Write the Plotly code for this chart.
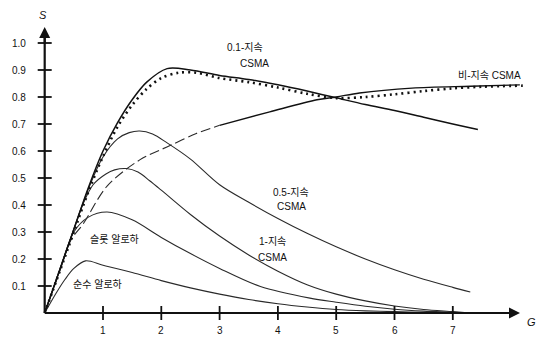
import plotly.graph_objects as go

# ---------------- data ----------------
g_p01 = [0, 0.25, 0.5, 0.75, 1.0, 1.25, 1.5, 1.75, 2.1, 2.5, 3.0, 3.5, 4.0, 4.5, 5.0, 5.5, 6.0, 6.5, 7.0, 7.43]
s_p01 = [0, 0.155, 0.31, 0.465, 0.60, 0.705, 0.79, 0.855, 0.905, 0.90, 0.88, 0.865, 0.845, 0.822, 0.797, 0.772, 0.75, 0.725, 0.70, 0.68]

g_dot = [0, 0.25, 0.5, 0.75, 1.0, 1.25, 1.5, 1.75, 2.0, 2.3, 2.6, 3.0, 3.5, 4.0, 4.5, 5.0, 5.5, 6.0, 6.5, 7.0, 7.5, 8.2]
s_dot = [0, 0.15, 0.30, 0.45, 0.58, 0.69, 0.77, 0.83, 0.87, 0.89, 0.89, 0.87, 0.855, 0.835, 0.812, 0.796, 0.80, 0.81, 0.822, 0.832, 0.838, 0.842]

g_nonp = [0, 0.25, 0.45, 0.66, 1.07, 1.63, 2.15, 2.6, 3.0, 3.86, 4.67, 5.0, 5.4, 6.3, 7.3, 8.15]
s_nonp = [0, 0.15, 0.27, 0.33, 0.47, 0.567, 0.62, 0.665, 0.695, 0.745, 0.79, 0.80, 0.815, 0.833, 0.84, 0.845]
nonp_dash_end = 9  # points before this index drawn dashed, rest solid

g_p05 = [0, 0.25, 0.5, 0.75, 1.0, 1.25, 1.45, 1.63, 1.85, 2.1, 2.5, 3.0, 3.5, 4.0, 4.5, 5.0, 5.5, 6.0, 6.5, 7.0, 7.3]
s_p05 = [0, 0.155, 0.31, 0.46, 0.578, 0.645, 0.668, 0.674, 0.663, 0.63, 0.57, 0.475, 0.41, 0.35, 0.295, 0.245, 0.20, 0.16, 0.125, 0.095, 0.078]

g_p1 = [0, 0.25, 0.5, 0.65, 0.83, 1.05, 1.2, 1.4, 1.6, 1.8, 2.0, 2.5, 3.0, 3.5, 4.0, 4.5, 5.0, 5.5, 6.0, 6.5, 7.0, 7.3]
s_p1 = [0, 0.155, 0.31, 0.40, 0.475, 0.515, 0.53, 0.535, 0.522, 0.49, 0.455, 0.365, 0.285, 0.215, 0.155, 0.105, 0.07, 0.045, 0.026, 0.013, 0.005, 0.0]

g_slot = [0, 0.25, 0.5, 0.75, 1.07, 1.5, 2.0, 2.5, 3.0, 3.7, 4.55, 5.0, 5.5, 6.0, 6.5, 7.0, 7.3]
s_slot = [0, 0.155, 0.30, 0.355, 0.374, 0.345, 0.28, 0.22, 0.165, 0.098, 0.055, 0.04, 0.025, 0.014, 0.007, 0.003, 0.0]

g_pure = [0, 0.2, 0.35, 0.5, 0.7, 1.0, 1.5, 2.0, 2.5, 3.0, 3.5, 4.0, 4.5, 5.0, 5.5, 6.0, 6.5, 7.0, 7.3]
s_pure = [0, 0.075, 0.125, 0.165, 0.193, 0.177, 0.15, 0.12, 0.093, 0.07, 0.05, 0.034, 0.022, 0.013, 0.008, 0.005, 0.003, 0.001, 0.0]

x_ticks = [1, 2, 3, 4, 5, 6, 7]
y_ticks = [0.1, 0.2, 0.3, 0.4, 0.5, 0.6, 0.7, 0.8, 0.9, 1.0]
y_tick_labels = ["0.1", "0.2", "0.3", "0.4", "0.5", "0.6", "0.7", "0.8", "0.9", "1.0"]

labels = [
    ("0.1-지속", 245, 47), ("CSMA", 254, 63),
    ("비-지속 CSMA", 489, 75),
    ("0.5-지속", 291, 192), ("CSMA", 291, 206),
    ("1-지속", 272, 241), ("CSMA", 272, 257),
    ("슬롯 알로하", 114, 239),
    ("순수 알로하", 97, 284),
]

# ---------------- geometry helpers ----------------
W, H = 537, 338
X0, XS = 44.7, 58.3   # pixel of G=0, pixels per unit G
Y0, YS = 313.0, 270.0  # pixel of S=0, pixels per unit S


def gx(px):
    return (px - X0) / XS


def sy(py):
    return (Y0 - py) / YS


FONT = "Liberation Sans, Arial, Noto Sans CJK KR, sans-serif"
INK = "#111111"
THIN = "#2a2a2a"

fig = go.Figure()


def add_line(x, y, width, color, dash="solid"):
    fig.add_trace(go.Scatter(x=x, y=y, mode="lines", line=dict(color=color, width=width, dash=dash,
                                                                   shape="spline", smoothing=0.9),
                             hoverinfo="skip", showlegend=False))


add_line(g_pure, s_pure, 1.1, THIN)
add_line(g_slot, s_slot, 1.1, THIN)
add_line(g_p1, s_p1, 1.1, THIN)
add_line(g_p05, s_p05, 1.1, THIN)
add_line(g_nonp[:nonp_dash_end], s_nonp[:nonp_dash_end], 1.1, THIN, dash="10px,4px")
add_line(g_nonp[nonp_dash_end - 1:], s_nonp[nonp_dash_end - 1:], 1.4, INK)
add_line(g_p01, s_p01, 1.5, INK)
add_line(g_dot, s_dot, 2.6, INK, dash="2px,4px")

shapes = []
# axes
shapes.append(dict(type="line", xref="x", yref="y", x0=0, y0=0, x1=0, y1=sy(36),
                   line=dict(color=INK, width=2.2)))
shapes.append(dict(type="line", xref="x", yref="y", x0=0, y0=0, x1=gx(512), y1=0,
                   line=dict(color=INK, width=2)))
# tick marks crossing the axes
for t in y_ticks:
    shapes.append(dict(type="line", xref="x", yref="y", x0=gx(X0 - 7), x1=gx(X0 + 7), y0=t, y1=t,
                       line=dict(color=INK, width=1.8)))
for t in x_ticks:
    shapes.append(dict(type="line", xref="x", yref="y", x0=t, x1=t, y0=sy(Y0 + 7), y1=sy(Y0 - 7),
                       line=dict(color=INK, width=1.8)))

ann = []
# arrowheads
ann.append(dict(x=0, y=sy(27), ax=0, ay=sy(45), xref="x", yref="y", axref="x", ayref="y",
                text="", showarrow=True, arrowhead=2, arrowsize=1.1, arrowwidth=2, arrowcolor=INK))
ann.append(dict(x=gx(520), y=0, ax=gx(500), ay=0, xref="x", yref="y", axref="x", ayref="y",
                text="", showarrow=True, arrowhead=2, arrowsize=1.1, arrowwidth=2, arrowcolor=INK))
# tick labels
for t, lab in zip(y_ticks, y_tick_labels):
    ann.append(dict(x=gx(28), y=t, xref="x", yref="y", text=lab, showarrow=False, xanchor="right",
                    yanchor="middle", font=dict(family=FONT, size=10, color=INK)))
for t in x_ticks:
    ann.append(dict(x=t, y=sy(330), xref="x", yref="y", text=str(t), showarrow=False, xanchor="center",
                    yanchor="middle", font=dict(family=FONT, size=10, color=INK)))
# axis titles
ann.append(dict(x=gx(43), y=sy(15), xref="x", yref="y", text="<i>S</i>", showarrow=False,
                font=dict(family=FONT, size=11, color=INK)))
ann.append(dict(x=gx(531), y=sy(322), xref="x", yref="y", text="<i>G</i>", showarrow=False,
                font=dict(family=FONT, size=11, color=INK)))
# curve labels
for txt, px, py in labels:
    ann.append(dict(x=gx(px), y=sy(py), xref="x", yref="y", text=txt, showarrow=False,
                    xanchor="center", yanchor="middle", font=dict(family=FONT, size=10, color=INK)))

fig.update_layout(
    width=W, height=H, autosize=False,
    margin=dict(l=0, r=0, t=0, b=0),
    paper_bgcolor="white", plot_bgcolor="white",
    xaxis=dict(range=[gx(0), gx(W)], visible=False, fixedrange=True),
    yaxis=dict(range=[sy(H), sy(0)], visible=False, fixedrange=True),
    shapes=shapes, annotations=ann, showlegend=False,
)

fig.write_html("out.html", config={"displayModeBar": False},
               post_script="document.body.style.margin='0';document.body.style.overflow='hidden';")
